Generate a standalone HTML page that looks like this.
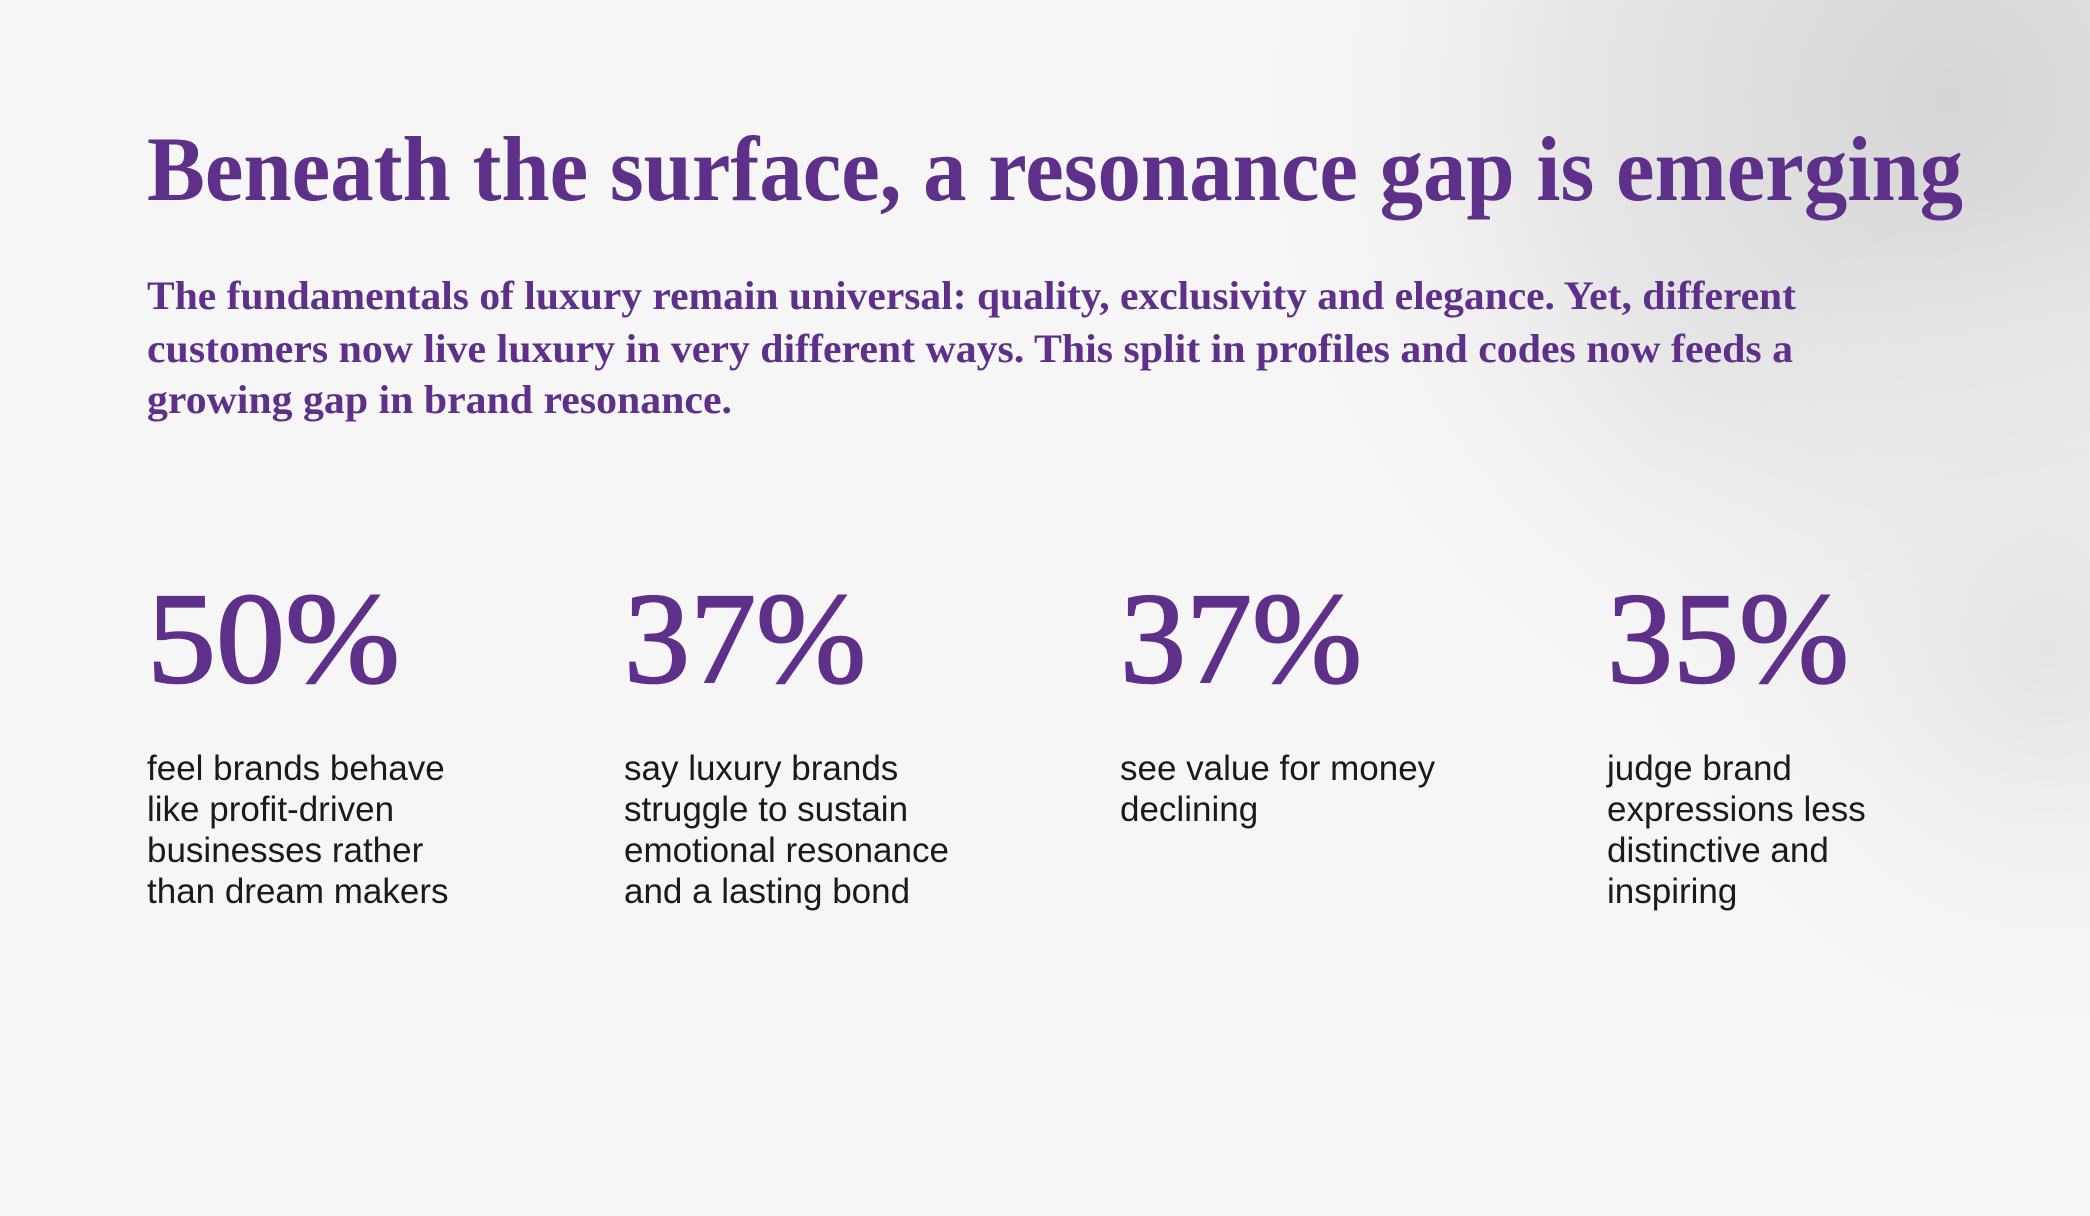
<!DOCTYPE html>
<html><head><meta charset="utf-8"><style>
html,body{margin:0;padding:0;width:2090px;height:1216px;overflow:hidden}
body{background:#f6f6f6}
</style></head><body>
<svg width="2090" height="1216" xmlns="http://www.w3.org/2000/svg">
<defs>
<radialGradient id="g1" cx="1950" cy="100" r="750" gradientUnits="userSpaceOnUse">
<stop offset="0" stop-color="#d6d6d6"/><stop offset="0.5" stop-color="#e6e6e6"/><stop offset="1" stop-color="#f6f6f6" stop-opacity="0"/>
</radialGradient>
<radialGradient id="g2" cx="2050" cy="650" r="450" gradientUnits="userSpaceOnUse">
<stop offset="0" stop-color="#e4e4e4"/><stop offset="1" stop-color="#f6f6f6" stop-opacity="0"/>
</radialGradient>
</defs>
<rect width="2090" height="1216" fill="#f6f6f6"/>
<rect width="2090" height="1216" fill="url(#g1)"/>
<rect width="2090" height="1216" fill="url(#g2)"/>
<g fill="#5f3089" font-family="Liberation Serif, serif" font-weight="bold">
<text x="147" y="200" font-size="92" textLength="1816" lengthAdjust="spacingAndGlyphs">Beneath the surface, a resonance gap is emerging</text>
<text x="147" y="309" font-size="40" textLength="1649" lengthAdjust="spacingAndGlyphs">The fundamentals of luxury remain universal: quality, exclusivity and elegance. Yet, different</text>
<text x="147" y="362" font-size="40" textLength="1646" lengthAdjust="spacingAndGlyphs">customers now live luxury in very different ways. This split in profiles and codes now feeds a</text>
<text x="147" y="413" font-size="40" textLength="585" lengthAdjust="spacingAndGlyphs">growing gap in brand resonance.</text>
<g font-size="130" font-weight="normal" stroke="#5f3089" stroke-width="2">
<text x="147" y="682" textLength="253" lengthAdjust="spacingAndGlyphs">50%</text>
<text x="624" y="682" textLength="242" lengthAdjust="spacingAndGlyphs">37%</text>
<text x="1120" y="682" textLength="242" lengthAdjust="spacingAndGlyphs">37%</text>
<text x="1607" y="682" textLength="242" lengthAdjust="spacingAndGlyphs">35%</text>
</g>
</g>
<g fill="#1a1a1a" font-family="Liberation Sans, sans-serif" font-size="35">
<text x="147" y="780">feel brands behave</text>
<text x="147" y="821">like profit-driven</text>
<text x="147" y="862">businesses rather</text>
<text x="147" y="903">than dream makers</text>
<text x="624" y="780">say luxury brands</text>
<text x="624" y="821">struggle to sustain</text>
<text x="624" y="862">emotional resonance</text>
<text x="624" y="903">and a lasting bond</text>
<text x="1120" y="780">see value for money</text>
<text x="1120" y="821">declining</text>
<text x="1607" y="780">judge brand</text>
<text x="1607" y="821">expressions less</text>
<text x="1607" y="862">distinctive and</text>
<text x="1607" y="903">inspiring</text>
</g>
</svg>
</body></html>
